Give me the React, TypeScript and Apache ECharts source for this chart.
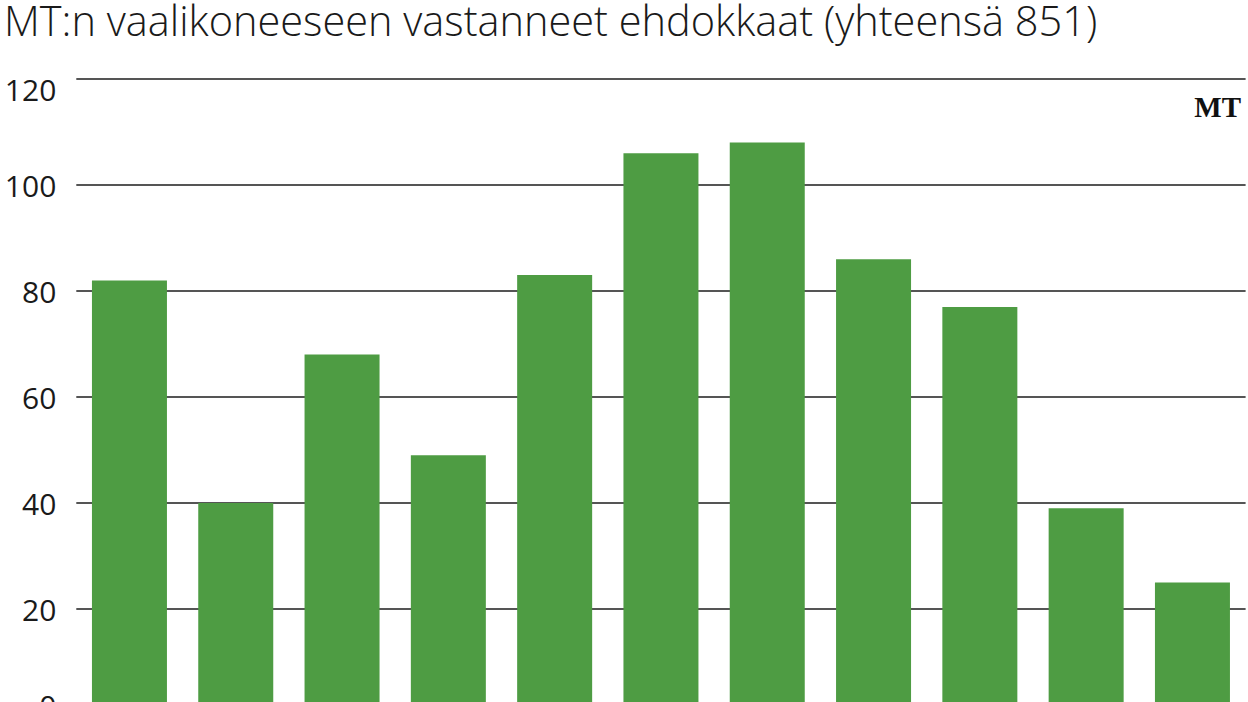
import React, { useEffect, useRef } from "react";
import * as echarts from "echarts";

const titleText = "MT:n vaalikoneeseen vastanneet ehdokkaat (yhteensä 851)";
const categories = ["1", "2", "3", "4", "5", "6", "7", "8", "9", "10", "11"];
const values = [82, 40, 68, 49, 83, 106, 108, 86, 77, 39, 25];
const yTicks = { min: 0, max: 120, interval: 20 };

export default function App() {
  const ref = useRef<HTMLDivElement>(null);
  useEffect(() => {
    if (!ref.current) return;
    const chart = echarts.init(ref.current, undefined, { renderer: "svg" });
    chart.setOption({
      animation: false,
      backgroundColor: "#ffffff",
      title: {
        text: titleText,
        left: 4,
        top: 1,
        padding: 0,
        textStyle: {
          fontFamily: "Open Sans",
          fontWeight: 300,
          fontSize: 41.5,
          lineHeight: 38,
          color: "#1a1a1a",
        },
      },
      graphic: [
        {
          type: "text",
          right: 7,
          top: 92,
          style: {
            text: "MT",
            fontFamily: "Liberation Serif",
            fontWeight: "bold",
            fontSize: 29,
            fill: "#111",
          },
        },
      ],
      grid: { left: 76.3, right: 2.4, top: 79, bottom: 25 },
      xAxis: {
        type: "category",
        data: categories,
        axisLine: { show: false },
        axisTick: { show: false },
        axisLabel: { show: false },
      },
      yAxis: {
        type: "value",
        min: yTicks.min,
        max: yTicks.max,
        interval: yTicks.interval,
        axisLine: { show: false },
        axisTick: { show: false },
        splitLine: { lineStyle: { color: "#555555", width: 1.8 } },
        axisLabel: {
          fontFamily: "Open Sans",
          fontSize: 30,
          lineHeight: 20,
          color: "#1a1a1a",
          margin: 20,
          verticalAlignMaxLabel: "top",
          verticalAlignMinLabel: "bottom",
        },
      },
      series: [
        {
          type: "bar",
          data: values,
          barWidth: 75,
          itemStyle: { color: "#4e9c43" },
        },
      ],
    });
    return () => chart.dispose();
  }, []);
  return (
    <div style={{ position: "absolute", left: 0, top: 0, width: 1248, height: 702, overflow: "hidden" }}>
      <div ref={ref} style={{ width: 1248, height: 740 }} />
    </div>
  );
}
